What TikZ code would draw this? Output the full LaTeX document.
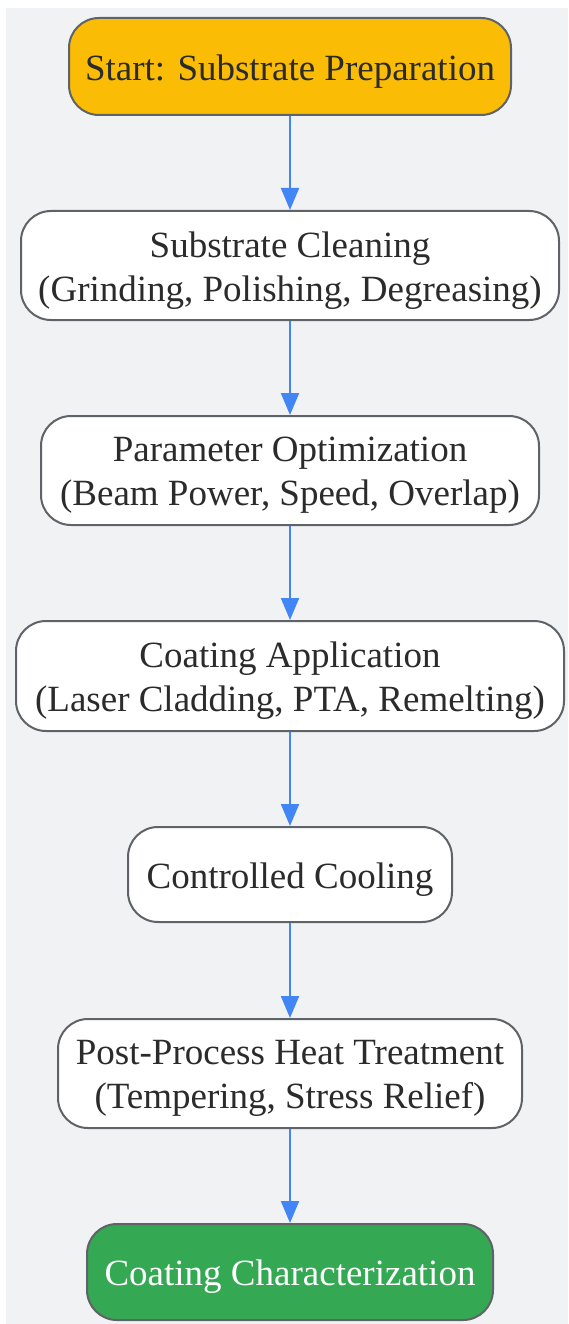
\documentclass[tikz,border=0pt]{standalone}
\usepackage{fontspec}
\setmainfont{Liberation Serif}
\usetikzlibrary{arrows.meta}
\definecolor{bgc}{HTML}{F1F2F4}
\definecolor{edgec}{HTML}{5F6368}
\definecolor{arrc}{HTML}{4285F4}
\definecolor{startc}{HTML}{FBBC05}
\definecolor{endc}{HTML}{34A853}
\definecolor{txtc}{HTML}{2B2B2B}
\tikzset{
  box/.style={draw=edgec, line width=2pt, rounded corners=30pt, fill=white, inner sep=0pt},
  lbl/.style={align=center, inner sep=0pt, text=txtc, yshift=-5pt,
    font=\fontsize{37pt}{44pt}\selectfont},
  flow/.style={draw=arrc, line width=2pt, -{Triangle[length=22pt,width=18pt]}}
}
\begin{document}
\begin{tikzpicture}[x=1pt,y=1pt]
\useasboundingbox (0,0) rectangle (568,-1324);
\fill[bgc] (6,-8) rectangle (568,-1324);
\node[box, fill=startc, minimum width=442pt, minimum height=97pt] (n1) at (290,-66.5) {};
\node[lbl] (t1) at (n1.center) {Start: Substrate Preparation};
\node[box, minimum width=538pt, minimum height=109pt] (n2) at (290,-265.5) {};
\node[lbl] (t2) at (n2.center) {Substrate Cleaning\\(Grinding, Polishing, Degreasing)};
\node[box, minimum width=498pt, minimum height=109pt] (n3) at (290,-470.5) {};
\node[lbl] (t3) at (n3.center) {Parameter Optimization\\(Beam Power, Speed, Overlap)};
\node[box, minimum width=548pt, minimum height=110pt] (n4) at (290,-676) {};
\node[lbl] (t4) at (n4.center) {Coating Application\\(Laser Cladding, PTA, Remelting)};
\node[box, minimum width=324pt, minimum height=95pt] (n5) at (290,-874.5) {};
\node[lbl] (t5) at (n5.center) {Controlled Cooling};
\node[box, minimum width=464pt, minimum height=109pt] (n6) at (290,-1073.5) {};
\node[lbl] (t6) at (n6.center) {Post-Process Heat Treatment\\(Tempering, Stress Relief)};
\node[box, fill=endc, minimum width=406pt, minimum height=96pt] (n7) at (290,-1272) {};
\node[lbl, text=white] (t7) at (n7.center) {Coating Characterization};
\draw[flow] (n1) -- (n2);
\draw[flow] (n2) -- (n3);
\draw[flow] (n3) -- (n4);
\draw[flow] (n4) -- (n5);
\draw[flow] (n5) -- (n6);
\draw[flow] (n6) -- (n7);
\end{tikzpicture}
\end{document}
